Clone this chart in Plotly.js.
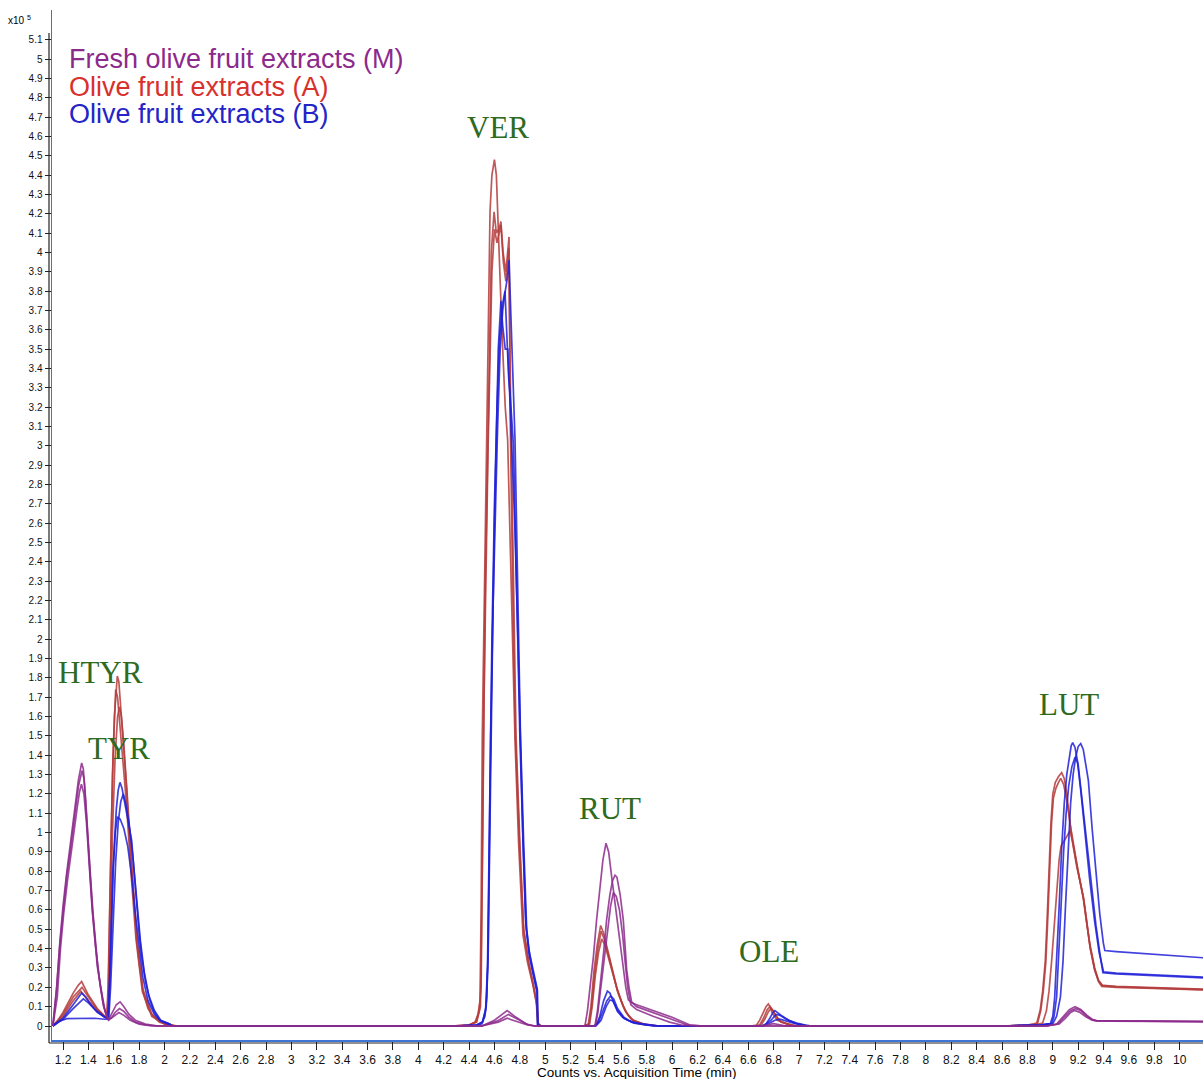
<!DOCTYPE html>
<html>
<head>
<meta charset="utf-8">
<script src="https://cdn.plot.ly/plotly-3.0.1.min.js"></script>
<style>html,body{margin:0;padding:0;background:#fff;}#chart{width:1203px;height:1079px;}</style>
</head>
<body>
<div id="chart"></div>
<script>
// ---- tick labels ----
const xTickLabels = ["1.2","1.4","1.6","1.8","2","2.2","2.4","2.6","2.8","3","3.2","3.4","3.6","3.8","4","4.2","4.4","4.6","4.8","5","5.2","5.4","5.6","5.8","6","6.2","6.4","6.6","6.8","7","7.2","7.4","7.6","7.8","8","8.2","8.4","8.6","8.8","9","9.2","9.4","9.6","9.8","10"];
const yTickLabels = ["0","0.1","0.2","0.3","0.4","0.5","0.6","0.7","0.8","0.9","1","1.1","1.2","1.3","1.4","1.5","1.6","1.7","1.8","1.9","2","2.1","2.2","2.3","2.4","2.5","2.6","2.7","2.8","2.9","3","3.1","3.2","3.3","3.4","3.5","3.6","3.7","3.8","3.9","4","4.1","4.2","4.3","4.4","4.5","4.6","4.7","4.8","4.9","5","5.1"];

// ---- series names ----
const seriesNames = ["Fresh olive fruit extracts (M)", "Olive fruit extracts (A)", "Olive fruit extracts (B)"];

// ---- peak labels: [text, time, counts x10^5] ----
const peakLabels = [["HTYR",1.492,1.83],["TYR",1.641,1.437],["VER",4.628,4.648],["RUT",5.51,1.127],["OLE",6.763,0.383],["LUT",9.127,1.66]];

// ---- chromatograms: [time (min), counts x10^5] ----
const M1 = [[1.12,0],[1.15,0.2],[1.176,0.44],[1.2,0.62],[1.229,0.79],[1.255,0.92],[1.281,1.05],[1.3,1.16],[1.321,1.27],[1.347,1.36],[1.36,1.33],[1.373,1.22],[1.39,1.02],[1.413,0.79],[1.432,0.6],[1.452,0.44],[1.47,0.31],[1.492,0.22],[1.511,0.14],[1.531,0.08],[1.557,0.03],[1.59,0.07],[1.62,0.11],[1.65,0.125],[1.68,0.1],[1.72,0.06],[1.77,0.03],[1.85,0.01],[1.95,0],
 [4.5,0],[4.6,0.03],[4.7,0.08],[4.76,0.05],[4.85,0.01],[4.92,0],
 [5.313,0],[5.333,0.08],[5.353,0.2],[5.38,0.36],[5.405,0.55],[5.43,0.72],[5.455,0.86],[5.479,0.945],[5.5,0.9],[5.524,0.77],[5.545,0.66],[5.563,0.55],[5.59,0.41],[5.615,0.29],[5.635,0.2],[5.655,0.135],[5.68,0.12],[5.721,0.11],[5.85,0.08],[6.0,0.045],[6.141,0.005],[6.25,0],
 [6.7,0],[6.8,0.012],[6.9,0],
 [8.95,0],[9.03,0.01],[9.08,0.05],[9.13,0.085],[9.175,0.1],[9.22,0.085],[9.27,0.055],[9.31,0.035],[9.345,0.028],[9.45,0.027],[10.2,0.024]];
const M2 = [[1.12,0],[1.155,0.15],[1.18,0.4],[1.205,0.58],[1.235,0.75],[1.26,0.88],[1.285,1.0],[1.31,1.12],[1.33,1.21],[1.345,1.25],[1.365,1.2],[1.385,1.05],[1.41,0.8],[1.43,0.6],[1.455,0.42],[1.475,0.3],[1.495,0.2],[1.52,0.1],[1.55,0.04],[1.58,0.04],[1.61,0.07],[1.645,0.09],[1.68,0.075],[1.72,0.045],[1.77,0.02],[1.85,0.005],[1.95,0],
 [4.5,0],[4.62,0.025],[4.71,0.06],[4.78,0.035],[4.87,0.005],[4.92,0],
 [5.392,0],[5.412,0.08],[5.432,0.2],[5.46,0.38],[5.484,0.55],[5.51,0.68],[5.53,0.75],[5.55,0.78],[5.565,0.77],[5.59,0.68],[5.615,0.55],[5.63,0.42],[5.642,0.29],[5.66,0.2],[5.681,0.125],[5.72,0.1],[5.85,0.07],[6.0,0.035],[6.12,0.005],[6.25,0],
 [8.95,0],[9.04,0.01],[9.09,0.045],[9.14,0.08],[9.18,0.09],[9.22,0.08],[9.27,0.05],[9.31,0.032],[9.345,0.027],[9.45,0.026],[10.2,0.023]];
const M3 = [[1.12,0],[1.148,0.18],[1.175,0.42],[1.2,0.6],[1.23,0.78],[1.256,0.9],[1.282,1.03],[1.302,1.14],[1.322,1.24],[1.35,1.32],[1.365,1.28],[1.378,1.17],[1.395,0.98],[1.418,0.76],[1.437,0.58],[1.457,0.42],[1.475,0.3],[1.497,0.2],[1.515,0.12],[1.535,0.07],[1.56,0.03],[1.6,0.05],[1.64,0.07],[1.68,0.055],[1.73,0.03],[1.8,0.01],[1.9,0],
 [4.5,0],[4.63,0.02],[4.7,0.04],[4.77,0.025],[4.86,0.005],[4.92,0],
 [5.395,0],[5.415,0.07],[5.435,0.18],[5.465,0.35],[5.49,0.5],[5.515,0.62],[5.537,0.69],[5.56,0.67],[5.585,0.6],[5.61,0.47],[5.63,0.33],[5.65,0.2],[5.675,0.11],[5.72,0.085],[5.85,0.05],[5.98,0.02],[6.08,0.004],[6.2,0],
 [8.95,0],[9.05,0.01],[9.1,0.04],[9.14,0.07],[9.17,0.08],[9.21,0.072],[9.26,0.048],[9.31,0.03],[9.345,0.026],[9.45,0.025],[10.2,0.022]];

const A1 = [[1.12,0],[1.16,0.03],[1.2,0.07],[1.24,0.12],[1.28,0.17],[1.32,0.21],[1.347,0.23],[1.37,0.2],[1.4,0.16],[1.44,0.12],[1.47,0.09],[1.5,0.07],[1.53,0.05],[1.544,0.04],
 [1.555,0.2],[1.565,0.55],[1.575,0.96],[1.59,1.3],[1.605,1.6],[1.618,1.76],[1.628,1.81],[1.64,1.78],[1.655,1.65],[1.675,1.45],[1.702,1.22],[1.72,1.0],[1.741,0.79],[1.76,0.6],[1.781,0.44],[1.805,0.3],[1.833,0.17],[1.87,0.09],[1.912,0.05],[1.96,0.02],[2.03,0.005],[2.1,0],
 [4.26,0],[4.4,0.005],[4.447,0.02],[4.47,0.06],[4.486,0.13],[4.495,0.6],[4.504,1.5],[4.52,2.2],[4.541,3.03],[4.552,3.69],[4.565,4.21],[4.58,4.4],[4.6,4.48],[4.615,4.4],[4.628,4.2],[4.645,3.85],[4.665,3.5],[4.685,3.2],[4.704,3.03],[4.73,2.3],[4.762,1.48],[4.79,0.95],[4.825,0.47],[4.86,0.33],[4.9,0.22],[4.93,0.12],[4.94,0.02],[4.96,0],
 [5.3,0],[5.34,0.01],[5.36,0.1],[5.385,0.29],[5.41,0.42],[5.437,0.52],[5.46,0.48],[5.497,0.38],[5.53,0.29],[5.563,0.2],[5.6,0.13],[5.629,0.08],[5.66,0.05],[5.694,0.03],[5.78,0.01],[5.9,0],
 [6.62,0],[6.666,0.005],[6.69,0.03],[6.72,0.07],[6.74,0.1],[6.758,0.114],[6.775,0.095],[6.79,0.065],[6.83,0.03],[6.9,0.01],[6.95,0],
 [8.6,0],[8.8,0.005],[8.873,0.015],[8.9,0.08],[8.92,0.18],[8.94,0.33],[8.955,0.55],[8.97,0.8],[8.985,1.05],[9.0,1.2],[9.02,1.26],[9.045,1.29],[9.07,1.31],[9.09,1.28],[9.11,1.2],[9.135,1.05],[9.16,0.93],[9.19,0.82],[9.24,0.67],[9.265,0.55],[9.293,0.41],[9.33,0.29],[9.36,0.23],[9.385,0.205],[9.5,0.2],[9.8,0.195],[10.2,0.186]];
const A2 = [[1.12,0],[1.2,0.05],[1.28,0.13],[1.34,0.18],[1.4,0.13],[1.47,0.08],[1.53,0.045],[1.548,0.04],
 [1.558,0.2],[1.568,0.6],[1.58,1.0],[1.595,1.4],[1.607,1.65],[1.615,1.74],[1.63,1.7],[1.65,1.55],[1.675,1.35],[1.7,1.15],[1.735,0.8],[1.775,0.45],[1.825,0.18],[1.9,0.05],[2.0,0.01],[2.1,0],
 [4.26,0],[4.4,0.005],[4.455,0.02],[4.48,0.08],[4.495,0.2],[4.503,0.7],[4.51,1.5],[4.528,2.3],[4.548,3.0],[4.575,4.0],[4.597,4.21],[4.615,4.1],[4.635,4.12],[4.651,4.16],[4.668,4.0],[4.69,3.9],[4.715,4.08],[4.725,3.1],[4.745,2.2],[4.765,1.5],[4.8,0.9],[4.83,0.5],[4.87,0.32],[4.91,0.2],[4.935,0.1],[4.945,0.01],[4.97,0],
 [5.31,0],[5.345,0.01],[5.365,0.1],[5.39,0.27],[5.415,0.4],[5.44,0.49],[5.465,0.45],[5.5,0.36],[5.535,0.27],[5.57,0.18],[5.61,0.11],[5.64,0.07],[5.68,0.035],[5.76,0.01],[5.88,0],
 [6.65,0],[6.69,0.005],[6.72,0.04],[6.75,0.085],[6.772,0.1],[6.79,0.085],[6.81,0.06],[6.85,0.025],[6.92,0.008],[6.98,0],
 [8.6,0],[8.85,0.005],[8.92,0.015],[8.95,0.08],[8.97,0.18],[8.99,0.33],[9.01,0.5],[9.03,0.7],[9.05,0.86],[9.065,0.93],[9.085,0.95],[9.11,0.98],[9.135,1.01],[9.16,0.94],[9.19,0.83],[9.24,0.66],[9.265,0.54],[9.293,0.42],[9.33,0.3],[9.36,0.235],[9.39,0.21],[9.5,0.205],[9.8,0.198],[10.2,0.19]];
const A3 = [[1.12,0],[1.2,0.06],[1.28,0.15],[1.35,0.2],[1.4,0.15],[1.47,0.085],[1.53,0.05],[1.55,0.045],
 [1.562,0.2],[1.575,0.6],[1.59,1.0],[1.61,1.38],[1.63,1.6],[1.645,1.65],[1.66,1.6],[1.68,1.45],[1.705,1.2],[1.74,0.85],[1.78,0.47],[1.83,0.19],[1.9,0.06],[2.0,0.01],[2.1,0],
 [4.26,0],[4.4,0.005],[4.46,0.02],[4.49,0.1],[4.507,1.0],[4.515,1.6],[4.55,3.0],[4.58,3.9],[4.6,4.12],[4.62,4.05],[4.651,4.14],[4.67,3.95],[4.69,3.85],[4.712,4.02],[4.728,3.2],[4.75,2.3],[4.77,1.5],[4.8,0.95],[4.83,0.5],[4.87,0.33],[4.91,0.21],[4.935,0.12],[4.945,0.01],[4.97,0],
 [5.31,0],[5.35,0.01],[5.37,0.1],[5.395,0.26],[5.42,0.38],[5.445,0.45],[5.47,0.42],[5.505,0.34],[5.54,0.25],[5.575,0.17],[5.615,0.1],[5.645,0.065],[5.69,0.03],[5.77,0.01],[5.88,0],
 [6.66,0],[6.7,0.005],[6.73,0.035],[6.76,0.075],[6.78,0.09],[6.8,0.075],[6.82,0.05],[6.86,0.02],[6.93,0.006],[6.98,0],
 [8.6,0],[8.85,0.005],[8.88,0.015],[8.905,0.08],[8.925,0.18],[8.945,0.33],[8.96,0.55],[8.975,0.8],[8.99,1.05],[9.005,1.18],[9.025,1.23],[9.045,1.26],[9.062,1.28],[9.085,1.25],[9.11,1.17],[9.14,1.03],[9.17,0.91],[9.2,0.8],[9.245,0.65],[9.295,0.4],[9.33,0.29],[9.36,0.235],[9.39,0.21],[9.5,0.203],[9.8,0.196],[10.2,0.188]];

const B1 = [[1.12,0],[1.2,0.04],[1.28,0.11],[1.347,0.17],[1.38,0.15],[1.42,0.11],[1.47,0.07],[1.53,0.045],[1.557,0.04],
 [1.565,0.15],[1.575,0.35],[1.592,0.79],[1.605,0.98],[1.62,1.12],[1.635,1.22],[1.649,1.26],[1.665,1.23],[1.685,1.16],[1.71,1.08],[1.741,0.96],[1.76,0.8],[1.781,0.62],[1.8,0.48],[1.82,0.36],[1.85,0.23],[1.886,0.13],[1.92,0.07],[1.964,0.03],[2.043,0.01],[2.06,0],
 [4.3,0],[4.45,0.005],[4.5,0.01],[4.525,0.05],[4.54,0.15],[4.55,0.4],[4.56,0.9],[4.57,1.5],[4.59,2.2],[4.61,2.8],[4.625,3.1],[4.645,3.5],[4.665,3.7],[4.685,3.8],[4.7,3.86],[4.715,3.96],[4.735,3.6],[4.762,3.03],[4.785,2.2],[4.805,1.5],[4.83,0.95],[4.854,0.5],[4.875,0.38],[4.9,0.3],[4.925,0.22],[4.938,0.19],[4.941,0.005],[4.96,0],
 [5.38,0],[5.406,0.01],[5.43,0.05],[5.46,0.13],[5.49,0.18],[5.51,0.17],[5.54,0.12],[5.57,0.075],[5.61,0.045],[5.65,0.03],[5.72,0.015],[5.82,0.005],[5.9,0],
 [6.7,0],[6.74,0.01],[6.77,0.04],[6.795,0.07],[6.81,0.08],[6.83,0.07],[6.87,0.05],[6.92,0.03],[6.98,0.015],[7.06,0.003],[7.1,0],
 [8.6,0],[8.9,0.005],[9.0,0.012],[9.03,0.05],[9.06,0.15],[9.08,0.33],[9.1,0.62],[9.12,0.92],[9.14,1.15],[9.16,1.3],[9.18,1.39],[9.2,1.445],[9.22,1.46],[9.24,1.43],[9.26,1.36],[9.28,1.27],[9.31,1.02],[9.346,0.755],[9.37,0.58],[9.398,0.43],[9.41,0.39],[9.5,0.385],[9.8,0.372],[10.2,0.352]];
const B2 = [[1.12,0],[1.17,0.025],[1.23,0.038],[1.35,0.04],[1.45,0.04],[1.53,0.035],[1.56,0.035],
 [1.575,0.2],[1.595,0.55],[1.615,0.85],[1.635,1.05],[1.655,1.16],[1.675,1.2],[1.695,1.15],[1.72,1.05],[1.75,0.88],[1.78,0.66],[1.81,0.44],[1.84,0.28],[1.875,0.16],[1.92,0.08],[1.97,0.03],[2.04,0.01],[2.06,0],
 [4.3,0],[4.46,0.005],[4.505,0.02],[4.53,0.08],[4.545,0.3],[4.555,0.8],[4.565,1.4],[4.58,2.0],[4.6,2.7],[4.62,3.2],[4.64,3.55],[4.66,3.72],[4.683,3.8],[4.695,3.6],[4.704,3.47],[4.712,3.35],[4.725,3.25],[4.75,3.0],[4.78,2.1],[4.8,1.5],[4.825,0.95],[4.85,0.5],[4.875,0.36],[4.9,0.28],[4.925,0.2],[4.936,0.17],[4.94,0.005],[4.96,0],
 [5.39,0],[5.42,0.02],[5.45,0.07],[5.485,0.13],[5.515,0.155],[5.54,0.14],[5.57,0.09],[5.62,0.045],[5.68,0.02],[5.8,0.005],[5.9,0],
 [6.72,0],[6.77,0.015],[6.81,0.03],[6.85,0.035],[6.9,0.025],[6.97,0.012],[7.05,0.003],[7.1,0],
 [8.6,0],[8.9,0.005],[8.98,0.012],[9.0,0.05],[9.015,0.15],[9.03,0.33],[9.05,0.62],[9.07,0.92],[9.09,1.15],[9.11,1.3],[9.13,1.4],[9.145,1.45],[9.157,1.465],[9.175,1.44],[9.2,1.35],[9.23,1.17],[9.26,0.98],[9.3,0.74],[9.34,0.52],[9.37,0.38],[9.395,0.275],[9.5,0.27],[9.8,0.262],[10.2,0.248]];
const B3 = [[1.12,0],[1.2,0.035],[1.28,0.09],[1.36,0.14],[1.4,0.12],[1.46,0.08],[1.53,0.045],[1.555,0.04],
 [1.565,0.2],[1.58,0.5],[1.597,0.82],[1.612,1.0],[1.628,1.08],[1.65,1.07],[1.68,1.02],[1.71,0.93],[1.74,0.78],[1.77,0.58],[1.8,0.4],[1.83,0.25],[1.87,0.13],[1.92,0.06],[1.97,0.025],[2.04,0.008],[2.06,0],
 [4.3,0],[4.46,0.005],[4.505,0.02],[4.535,0.1],[4.55,0.35],[4.56,0.85],[4.57,1.4],[4.585,2.0],[4.6,2.6],[4.615,3.1],[4.63,3.5],[4.651,3.75],[4.665,3.62],[4.685,3.5],[4.705,3.5],[4.718,3.3],[4.735,3.05],[4.76,2.6],[4.785,2.0],[4.805,1.45],[4.825,0.95],[4.845,0.55],[4.87,0.4],[4.9,0.29],[4.925,0.21],[4.937,0.18],[4.941,0.005],[4.96,0],
 [5.4,0],[5.44,0.03],[5.48,0.1],[5.51,0.135],[5.535,0.13],[5.57,0.08],[5.62,0.04],[5.7,0.015],[5.85,0],
 [6.72,0],[6.78,0.03],[6.82,0.06],[6.85,0.055],[6.9,0.035],[6.97,0.015],[7.05,0],
 [8.6,0],[8.9,0.005],[8.99,0.012],[9.01,0.05],[9.03,0.15],[9.045,0.33],[9.065,0.62],[9.085,0.9],[9.105,1.1],[9.125,1.24],[9.15,1.34],[9.175,1.39],[9.195,1.36],[9.22,1.22],[9.25,1.02],[9.29,0.76],[9.33,0.54],[9.365,0.38],[9.4,0.28],[9.5,0.273],[9.8,0.265],[10.2,0.252]];

// ---- styling ----
const colM = "#8c2a8c", colA = "#b43c3c", colB = "#2020d8";
const groups = [
  {data:[A1,A2,A3], color:colA, name:seriesNames[1]},
  {data:[B1,B2,B3], color:colB, name:seriesNames[2]},
  {data:[M1,M2,M3], color:colM, name:seriesNames[0]}
];

function withBaseline(pts){
  const out=pts.slice();
  const last = out[out.length-1];
  if(last[0] < 10.2) out.push([10.2, 0]);
  return out;
}

const traces=[];
groups.forEach(g=>{
  g.data.forEach(d=>{
    const p = withBaseline(d);
    traces.push({
      x:p.map(v=>v[0]), y:p.map(v=>v[1]),
      type:"scatter", mode:"lines", name:g.name, showlegend:false,
      line:{color:g.color, width:1.7}, opacity:0.85, hoverinfo:"skip"
    });
  });
});

const W=1203, H=1079, L=52, R=0, T=10, B=39;
const pw=W-L-R, ph=H-T-B;
const xRange=[1.1133, 10.1835], yRange=[-0.0724, 5.2534];

const annotations=[];
peakLabels.forEach(p=>{
  annotations.push({text:p[0], x:p[1], y:p[2], xref:"x", yref:"y", showarrow:false,
    xanchor:"center", yanchor:"middle",
    font:{family:"Liberation Serif, Times New Roman, serif", size:31, color:"#2e6b20"}});
});
const legColors=[colM, "#d8302c", "#2424c8"];
const legY=[59,87,114];
seriesNames.forEach((s,i)=>{
  annotations.push({text:s, xref:"paper", yref:"paper", x:(67-L)/pw, y:(H-B-legY[i])/ph,
    xanchor:"left", yanchor:"middle", showarrow:false,
    font:{family:"Liberation Sans, Arial, sans-serif", size:27, color:legColors[i]}});
});
annotations.push({text:"x10 <sup>5</sup>", xref:"paper", yref:"paper", x:(33-L)/pw, y:(H-B-20)/ph,
  xanchor:"right", yanchor:"middle", showarrow:false,
  font:{family:"Liberation Sans, Arial, sans-serif", size:10, color:"#000"}});
annotations.push({text:"Counts vs. Acquisition Time (min)", xref:"paper", yref:"paper", x:(637-L)/pw, y:-(1072-(H-B))/ph,
  xanchor:"center", yanchor:"middle", showarrow:false,
  font:{family:"Liberation Sans, Arial, sans-serif", size:13.5, color:"#000"}});

const shapes=[
  {type:"line", xref:"paper", yref:"paper", x0:-3/pw, x1:-3/pw, y0:-3/ph, y1:(H-B-33)/ph, line:{color:"#222", width:1.2}},
  {type:"line", xref:"paper", yref:"paper", x0:-3/pw, x1:1, y0:-3/ph, y1:-3/ph, line:{color:"#222", width:1.2}}
];

const layout={
  width:W, height:H, margin:{l:L, r:R, t:T, b:B, pad:0},
  paper_bgcolor:"#fff", plot_bgcolor:"#fff", showlegend:false,
  xaxis:{range:xRange, tickmode:"array", tickvals:xTickLabels.map(Number), ticktext:xTickLabels,
    showgrid:false, zeroline:false, showline:true, linecolor:"#3d74d6", linewidth:1.5,
    ticks:"outside", ticklen:8, tickcolor:"#222", tickwidth:1,
    tickfont:{family:"Liberation Sans, Arial, sans-serif", size:12, color:"#111"}},
  yaxis:{range:yRange, tickmode:"array", tickvals:yTickLabels.map(Number), ticktext:yTickLabels,
    showgrid:false, zeroline:false, showline:true, linecolor:"#3d74d6", linewidth:1.5,
    ticks:"outside", ticklen:6, tickcolor:"#222", tickwidth:1,
    tickfont:{family:"Liberation Sans, Arial, sans-serif", size:10, color:"#111"}},
  annotations:annotations, shapes:shapes
};
Plotly.newPlot("chart", traces, layout, {staticPlot:true, displayModeBar:false});
</script>
</body>
</html>
